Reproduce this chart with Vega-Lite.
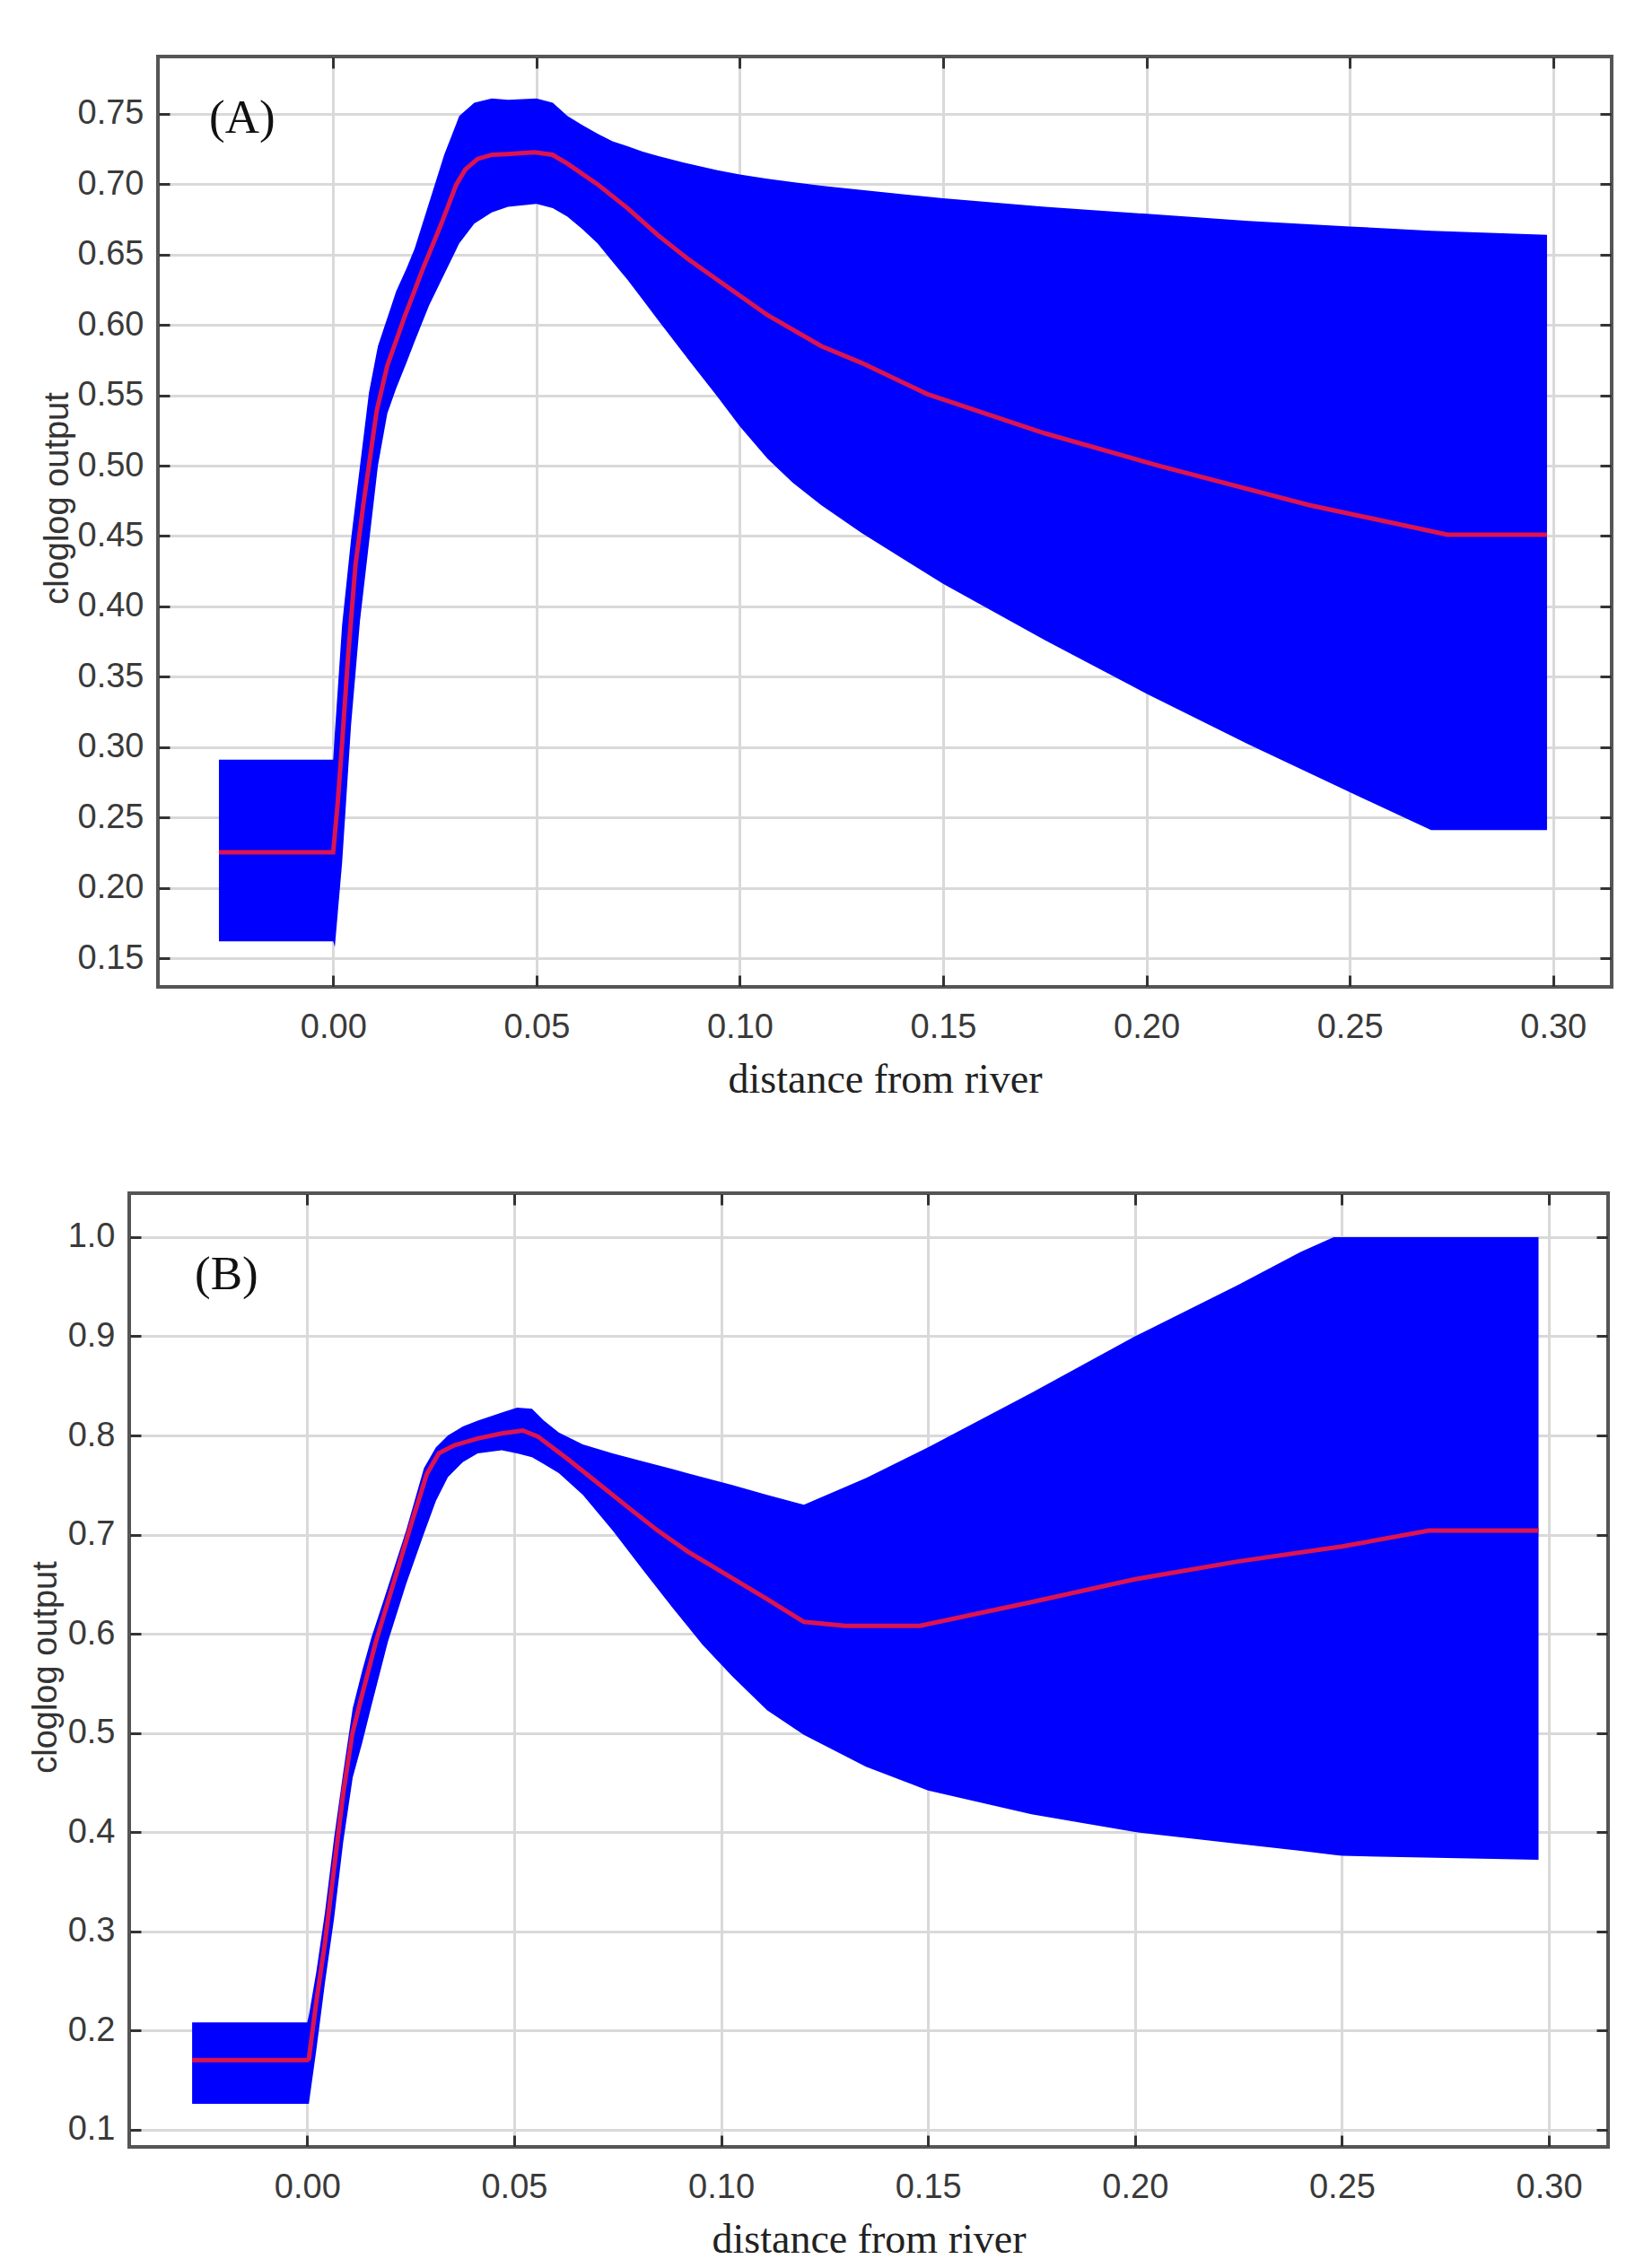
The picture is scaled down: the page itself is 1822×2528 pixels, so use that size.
{
  "$schema": "https://vega.github.io/schema/vega-lite/v6.json",
  "background": "white",
  "padding": {"left": 30, "top": 59, "right": 10, "bottom": 5},
  "spacing": 98,
  "config": {
    "view": {"stroke": "#555555", "strokeWidth": 4},
    "axis": {
      "labelFont": "Liberation Sans", "labelFontSize": 38, "labelColor": "#3a3a3a",
      "titleFontWeight": "normal",
      "gridColor": "#d9d9d9", "gridWidth": 3, "gridOpacity": 1,
      "domain": false,
      "tickColor": "#333333", "tickWidth": 3, "tickSize": -13
    }
  },
  "datasets": {
    "spacer": [],
    "bandA": [
      {"x": -0.0281, "lo": 0.162, "hi": 0.291},
      {"x": 0.0, "lo": 0.162, "hi": 0.291},
      {"x": 0.0004, "lo": 0.158, "hi": 0.31},
      {"x": 0.0022, "lo": 0.218, "hi": 0.387},
      {"x": 0.0044, "lo": 0.316, "hi": 0.448},
      {"x": 0.0066, "lo": 0.39, "hi": 0.5},
      {"x": 0.0088, "lo": 0.445, "hi": 0.552},
      {"x": 0.011, "lo": 0.5, "hi": 0.585},
      {"x": 0.0133, "lo": 0.537, "hi": 0.605},
      {"x": 0.0155, "lo": 0.555, "hi": 0.624},
      {"x": 0.018, "lo": 0.573, "hi": 0.64},
      {"x": 0.02, "lo": 0.588, "hi": 0.654},
      {"x": 0.0236, "lo": 0.614, "hi": 0.687},
      {"x": 0.0273, "lo": 0.636, "hi": 0.721},
      {"x": 0.031, "lo": 0.658, "hi": 0.7485},
      {"x": 0.0347, "lo": 0.672, "hi": 0.758},
      {"x": 0.039, "lo": 0.68, "hi": 0.761},
      {"x": 0.043, "lo": 0.684, "hi": 0.76},
      {"x": 0.05, "lo": 0.686, "hi": 0.761},
      {"x": 0.054, "lo": 0.683, "hi": 0.758},
      {"x": 0.0576, "lo": 0.677, "hi": 0.7485},
      {"x": 0.0613, "lo": 0.668, "hi": 0.742},
      {"x": 0.065, "lo": 0.658, "hi": 0.736},
      {"x": 0.0687, "lo": 0.645, "hi": 0.7306},
      {"x": 0.0724, "lo": 0.632, "hi": 0.727},
      {"x": 0.0761, "lo": 0.618, "hi": 0.7232},
      {"x": 0.08, "lo": 0.603, "hi": 0.72},
      {"x": 0.0872, "lo": 0.576, "hi": 0.7147},
      {"x": 0.0945, "lo": 0.549, "hi": 0.71},
      {"x": 0.1, "lo": 0.528, "hi": 0.707},
      {"x": 0.1068, "lo": 0.505, "hi": 0.704},
      {"x": 0.113, "lo": 0.488, "hi": 0.7015},
      {"x": 0.12, "lo": 0.472, "hi": 0.699},
      {"x": 0.13, "lo": 0.452, "hi": 0.696},
      {"x": 0.15, "lo": 0.416, "hi": 0.69},
      {"x": 0.175, "lo": 0.376, "hi": 0.684},
      {"x": 0.2, "lo": 0.338, "hi": 0.679},
      {"x": 0.225, "lo": 0.302, "hi": 0.674},
      {"x": 0.25, "lo": 0.268, "hi": 0.67},
      {"x": 0.27, "lo": 0.241, "hi": 0.667},
      {"x": 0.2985, "lo": 0.241, "hi": 0.664}
    ],
    "meanA": [
      {"x": -0.0281, "m": 0.2253},
      {"x": 0.0, "m": 0.2253},
      {"x": 0.0011, "m": 0.26},
      {"x": 0.0022, "m": 0.303},
      {"x": 0.0037, "m": 0.366},
      {"x": 0.0055, "m": 0.43},
      {"x": 0.0074, "m": 0.472},
      {"x": 0.0107, "m": 0.539},
      {"x": 0.0133, "m": 0.571},
      {"x": 0.0177, "m": 0.607},
      {"x": 0.0222, "m": 0.641},
      {"x": 0.0266, "m": 0.672},
      {"x": 0.0303, "m": 0.7},
      {"x": 0.0325, "m": 0.7105},
      {"x": 0.0355, "m": 0.718},
      {"x": 0.0391, "m": 0.721},
      {"x": 0.0428, "m": 0.7215},
      {"x": 0.0495, "m": 0.7227},
      {"x": 0.0539, "m": 0.721},
      {"x": 0.0576, "m": 0.7147},
      {"x": 0.065, "m": 0.7},
      {"x": 0.0724, "m": 0.683},
      {"x": 0.0798, "m": 0.664},
      {"x": 0.0872, "m": 0.647},
      {"x": 0.0945, "m": 0.632},
      {"x": 0.1068, "m": 0.607},
      {"x": 0.12, "m": 0.585},
      {"x": 0.13, "m": 0.573},
      {"x": 0.146, "m": 0.551},
      {"x": 0.175, "m": 0.523},
      {"x": 0.203, "m": 0.5},
      {"x": 0.24, "m": 0.472},
      {"x": 0.274, "m": 0.451},
      {"x": 0.2985, "m": 0.451}
    ],
    "labelA": [{"x": -0.0224, "y": 0.7468, "t": "(A)"}],
    "bandB": [
      {"x": -0.0278, "lo": 0.126, "hi": 0.208},
      {"x": 0.0, "lo": 0.126, "hi": 0.208},
      {"x": 0.0004, "lo": 0.126, "hi": 0.215},
      {"x": 0.0022, "lo": 0.18, "hi": 0.259},
      {"x": 0.0043, "lo": 0.248, "hi": 0.319},
      {"x": 0.0065, "lo": 0.313, "hi": 0.394},
      {"x": 0.0087, "lo": 0.39, "hi": 0.46},
      {"x": 0.011, "lo": 0.455, "hi": 0.525},
      {"x": 0.0133, "lo": 0.49, "hi": 0.563},
      {"x": 0.0155, "lo": 0.527, "hi": 0.596},
      {"x": 0.0195, "lo": 0.592, "hi": 0.647},
      {"x": 0.0239, "lo": 0.65, "hi": 0.704},
      {"x": 0.0282, "lo": 0.701, "hi": 0.767},
      {"x": 0.0311, "lo": 0.734, "hi": 0.788},
      {"x": 0.034, "lo": 0.758, "hi": 0.8},
      {"x": 0.0376, "lo": 0.773, "hi": 0.809},
      {"x": 0.0412, "lo": 0.782, "hi": 0.815},
      {"x": 0.047, "lo": 0.785, "hi": 0.823},
      {"x": 0.0507, "lo": 0.782, "hi": 0.828},
      {"x": 0.0543, "lo": 0.778, "hi": 0.827},
      {"x": 0.0572, "lo": 0.771, "hi": 0.815},
      {"x": 0.0608, "lo": 0.762, "hi": 0.803},
      {"x": 0.0666, "lo": 0.74, "hi": 0.791},
      {"x": 0.0738, "lo": 0.704, "hi": 0.782},
      {"x": 0.081, "lo": 0.665, "hi": 0.774},
      {"x": 0.0883, "lo": 0.626, "hi": 0.766},
      {"x": 0.0955, "lo": 0.589, "hi": 0.758},
      {"x": 0.1027, "lo": 0.557, "hi": 0.75},
      {"x": 0.1111, "lo": 0.523, "hi": 0.74},
      {"x": 0.12, "lo": 0.498, "hi": 0.73},
      {"x": 0.135, "lo": 0.466, "hi": 0.757},
      {"x": 0.15, "lo": 0.442, "hi": 0.788},
      {"x": 0.175, "lo": 0.418, "hi": 0.843},
      {"x": 0.2, "lo": 0.4, "hi": 0.9},
      {"x": 0.225, "lo": 0.388, "hi": 0.952},
      {"x": 0.24, "lo": 0.381, "hi": 0.985},
      {"x": 0.248, "lo": 0.377, "hi": 1.0},
      {"x": 0.25, "lo": 0.376, "hi": 1.0},
      {"x": 0.2975, "lo": 0.372, "hi": 1.0}
    ],
    "meanB": [
      {"x": -0.0278, "m": 0.17},
      {"x": 0.0, "m": 0.17},
      {"x": 0.0004, "m": 0.1715},
      {"x": 0.0022, "m": 0.2286},
      {"x": 0.0043, "m": 0.2887},
      {"x": 0.0065, "m": 0.3638},
      {"x": 0.0087, "m": 0.439},
      {"x": 0.0109, "m": 0.499},
      {"x": 0.0128, "m": 0.531},
      {"x": 0.0166, "m": 0.592},
      {"x": 0.021, "m": 0.653},
      {"x": 0.0253, "m": 0.713},
      {"x": 0.0289, "m": 0.761},
      {"x": 0.0318, "m": 0.782},
      {"x": 0.0355, "m": 0.79},
      {"x": 0.0412, "m": 0.797},
      {"x": 0.047, "m": 0.802},
      {"x": 0.0521, "m": 0.805},
      {"x": 0.0557, "m": 0.799},
      {"x": 0.063, "m": 0.776},
      {"x": 0.0702, "m": 0.752},
      {"x": 0.0774, "m": 0.728},
      {"x": 0.0847, "m": 0.704},
      {"x": 0.0919, "m": 0.683},
      {"x": 0.0991, "m": 0.665},
      {"x": 0.1111, "m": 0.635},
      {"x": 0.12, "m": 0.612},
      {"x": 0.13, "m": 0.608},
      {"x": 0.148, "m": 0.608},
      {"x": 0.175, "m": 0.632},
      {"x": 0.2, "m": 0.655},
      {"x": 0.225, "m": 0.673},
      {"x": 0.25, "m": 0.688},
      {"x": 0.271, "m": 0.704},
      {"x": 0.2975, "m": 0.704}
    ],
    "labelB": [{"x": -0.0195, "y": 0.9623, "t": "(B)"}]
  },
  "vconcat": [
    {
      "bounds": "flush",
      "spacing": 31,
      "hconcat": [
        {
          "width": 1,
          "height": 1,
          "view": {"stroke": null},
          "data": {"name": "spacer"},
          "mark": {"type": "point", "opacity": 0},
          "encoding": {}
        },
        {
          "width": 1620,
          "height": 1037,
          "layer": [
            {
              "data": {"name": "bandA"},
              "mark": {"type": "area", "color": "#0000ff", "opacity": 1},
              "encoding": {
                "x": {"field": "x", "type": "quantitative",
                  "scale": {"domain": [-0.0431, 0.3144], "nice": false, "zero": false},
                  "axis": {"orient": "bottom", "values": [0, 0.05, 0.1, 0.15, 0.2, 0.25, 0.3], "format": ".2f",
                    "title": "distance from river", "titleFont": "Liberation Serif", "titleFontSize": 46, "titleColor": "#222222",
                    "titleY": 117, "titleBaseline": "alphabetic", "labelPadding": 39, "grid": true}},
                "y": {"field": "hi", "type": "quantitative",
                  "scale": {"domain": [0.1296, 0.7908], "nice": false, "zero": false},
                  "axis": {"orient": "left", "values": [0.15, 0.2, 0.25, 0.3, 0.35, 0.4, 0.45, 0.5, 0.55, 0.6, 0.65, 0.7, 0.75], "format": ".2f",
                    "title": "cloglog output", "titleFont": "Liberation Sans", "titleFontSize": 38, "titleColor": "#333333",
                    "titleX": -101, "titleY": 492, "titleAngle": 270, "titleBaseline": "alphabetic", "titleAlign": "center",
                    "labelPadding": 29, "grid": true}},
                "y2": {"field": "lo"}
              }
            },
            {
              "data": {"name": "meanA"},
              "mark": {"type": "line", "color": "#dc1450", "strokeWidth": 5},
              "encoding": {
                "x": {"field": "x", "type": "quantitative",
                  "axis": {"orient": "top", "values": [0, 0.05, 0.1, 0.15, 0.2, 0.25, 0.3], "labels": false, "grid": false, "title": null}},
                "y": {"field": "m", "type": "quantitative",
                  "axis": {"orient": "right", "values": [0.15, 0.2, 0.25, 0.3, 0.35, 0.4, 0.45, 0.5, 0.55, 0.6, 0.65, 0.7, 0.75], "labels": false, "grid": false, "title": null}}
              }
            },
            {
              "data": {"name": "labelA"},
              "mark": {"type": "text", "font": "Liberation Serif", "fontSize": 53, "color": "#111111", "align": "center", "baseline": "middle"},
              "encoding": {
                "x": {"field": "x", "type": "quantitative", "axis": null},
                "y": {"field": "y", "type": "quantitative", "axis": null},
                "text": {"field": "t"}
              }
            }
          ],
          "resolve": {"axis": {"x": "independent", "y": "independent"}}
        }
      ]
    },
    {
      "width": 1648,
      "height": 1063,
      "layer": [
        {
          "data": {"name": "bandB"},
          "mark": {"type": "area", "color": "#0000ff", "opacity": 1},
          "encoding": {
            "x": {"field": "x", "type": "quantitative",
              "scale": {"domain": [-0.043, 0.3143], "nice": false, "zero": false},
              "axis": {"orient": "bottom", "values": [0, 0.05, 0.1, 0.15, 0.2, 0.25, 0.3], "format": ".2f",
                "title": "distance from river", "titleFont": "Liberation Serif", "titleFontSize": 46, "titleColor": "#222222",
                "titleY": 117, "titleBaseline": "alphabetic", "labelPadding": 39, "grid": true}},
            "y": {"field": "hi", "type": "quantitative",
              "scale": {"domain": [0.0825, 1.0443], "nice": false, "zero": false},
              "axis": {"orient": "left", "values": [0.1, 0.2, 0.3, 0.4, 0.5, 0.6, 0.7, 0.8, 0.9, 1.0], "format": ".1f",
                "title": "cloglog output", "titleFont": "Liberation Sans", "titleFontSize": 38, "titleColor": "#333333",
                "titleX": -82, "titleY": 528, "titleAngle": 270, "titleBaseline": "alphabetic", "titleAlign": "center",
                "labelPadding": 29, "grid": true}},
            "y2": {"field": "lo"}
          }
        },
        {
          "data": {"name": "meanB"},
          "mark": {"type": "line", "color": "#dc1450", "strokeWidth": 5},
          "encoding": {
            "x": {"field": "x", "type": "quantitative",
              "axis": {"orient": "top", "values": [0, 0.05, 0.1, 0.15, 0.2, 0.25, 0.3], "labels": false, "grid": false, "title": null}},
            "y": {"field": "m", "type": "quantitative",
              "axis": {"orient": "right", "values": [0.1, 0.2, 0.3, 0.4, 0.5, 0.6, 0.7, 0.8, 0.9, 1.0], "labels": false, "grid": false, "title": null}}
          }
        },
        {
          "data": {"name": "labelB"},
          "mark": {"type": "text", "font": "Liberation Serif", "fontSize": 53, "color": "#111111", "align": "center", "baseline": "middle"},
          "encoding": {
            "x": {"field": "x", "type": "quantitative", "axis": null},
            "y": {"field": "y", "type": "quantitative", "axis": null},
            "text": {"field": "t"}
          }
        }
      ],
      "resolve": {"axis": {"x": "independent", "y": "independent"}}
    }
  ]
}
